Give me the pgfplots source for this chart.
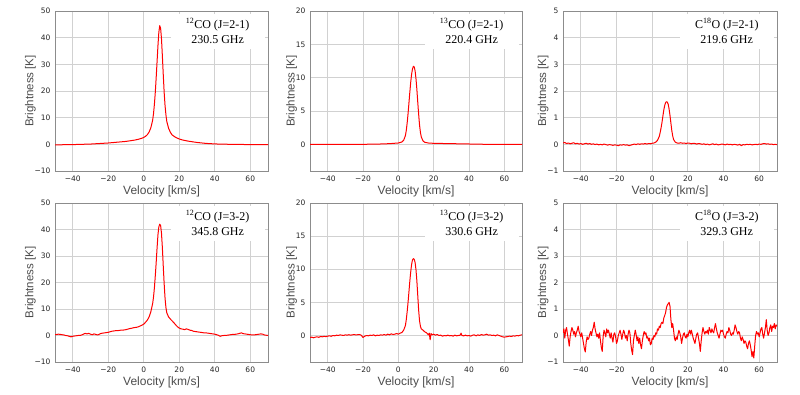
\documentclass[border=0pt]{standalone}
\usepackage{pgfplots}
\pgfplotsset{compat=1.18}
\usepackage{pgfplotstable}
\usepackage{fontspec}
\setmainfont{Liberation Serif}
\newfontfamily\labfont{Liberation Sans}
\newfontfamily\tickfont{DejaVu Sans}

\pgfplotstableread{
v T
-50 -0.2
-45 -0.15
-40 -0.1
-35 0.0
-30 0.1
-25 0.3
-20 0.5
-15 0.8
-10 1.1
-7 1.4
-5 1.6
-3 1.9
-1 2.3
0 2.6
1 3.0
2 3.6
3 4.6
4 6.2
5 9.0
5.5 11.5
6 15
6.5 19.5
7 25
7.5 31
8 37
8.5 42
9 44.5
9.5 43.5
10 39.5
10.5 33
11 26
11.5 19.5
12 14.5
12.5 11
13 8.5
14 6
15 4.5
16 3.5
18 2.6
20 2.0
22 1.6
25 1.2
30 0.7
35 0.35
40 0.15
45 0.05
50 0.0
55 -0.05
60 -0.1
65 -0.1
70 -0.15
}\tabA

\pgfplotstableread{
v T
-50 0.0
-40 0.0
-30 -0.02
-20 0.0
-10 0.05
-5 0.1
0 0.2
2 0.35
3 0.6
4 1.3
4.5 2.1
5 3.2
5.5 4.6
6 6.2
6.5 7.8
7 9.3
7.5 10.5
8 11.3
8.5 11.7
9 11.6
9.5 11.0
10 9.8
10.5 8.2
11 6.3
11.5 4.5
12 2.9
12.5 1.8
13 1.1
14 0.5
15 0.3
17 0.2
20 0.15
30 0.1
40 0.05
50 0.0
60 0.0
70 0.0
}\tabB

\pgfplotstableread{
v T
-50 0.05
-49 0.07
-48 0.03
-47 0.05
-46 0.02
-45 0.04
-44 0.06
-43 0.02
-42 0.04
-41 0.01
-40 0.03
-39 0.00
-38 0.02
-37 0.04
-36 0.01
-35 0.03
-34 0.00
-33 0.02
-32 -0.01
-31 0.01
-30 -0.02
-29 0.00
-28 -0.02
-27 0.01
-26 -0.01
-25 -0.03
-24 -0.01
-23 -0.02
-22 -0.04
-21 -0.02
-20 -0.03
-19 -0.05
-18 -0.02
-17 -0.03
-16 -0.01
-15 -0.03
-14 -0.02
-13 -0.05
-12 -0.03
-11 -0.01
-10 0.01
-9 -0.01
-8 0.02
-7 0.00
-6 0.02
-5 0.01
-4 0.03
-3 0.01
-2 0.03
-1 0.02
0 0.04
1 0.05
2 0.08
3 0.15
4 0.3
4.5 0.45
5 0.62
5.5 0.82
6 1.05
6.5 1.28
7 1.45
7.5 1.56
8 1.60
8.5 1.58
9 1.50
9.5 1.32
10 1.08
10.5 0.80
11 0.52
11.5 0.32
12 0.18
13 0.08
14 0.05
15 0.04
16 0.06
17 0.04
18 0.05
19 0.03
20 0.05
21 0.04
22 0.02
23 0.04
24 0.03
25 0.01
26 0.03
27 0.02
28 0.00
29 0.02
30 -0.01
31 0.01
32 -0.02
33 0.00
34 0.02
35 -0.01
36 0.01
37 -0.02
38 -0.01
39 0.01
40 0.00
41 -0.02
42 0.01
43 -0.01
44 0.00
45 -0.02
46 0.00
47 -0.01
48 -0.03
49 0.00
50 -0.05
51 -0.01
52 -0.02
53 0.00
54 -0.01
55 0.00
56 -0.02
57 -0.01
58 0.00
59 -0.01
60 0.01
61 0.00
62 0.02
63 0.03
64 0.01
65 0.02
66 0.00
67 0.01
68 -0.01
69 0.00
70 -0.01
}\tabC

\pgfplotstableread{
v T
-50 0.3
-49 0.4
-48 0.5
-47 0.4
-46 0.3
-45 0.2
-44 0.0
-43 -0.1
-42 -0.3
-41 -0.5
-40 -0.3
-39 -0.2
-38 -0.1
-37 0.0
-36 0.0
-35 0.2
-34 0.5
-33 0.8
-32 0.6
-31 0.8
-30 0.5
-29 0.3
-28 0.6
-27 0.4
-26 0.2
-25 0.5
-24 0.8
-23 0.9
-22 1.0
-21 1.1
-20 1.2
-19 1.4
-18 1.6
-17 1.7
-16 1.8
-15 1.8
-14 1.9
-13 2.0
-12 2.0
-11 2.1
-10 2.2
-9 2.4
-8 2.6
-7 2.7
-6 2.9
-5 3.0
-4 3.1
-3 3.3
-2 3.6
-1 3.9
0 4.3
1 5.0
2 5.8
3 7.0
4 9.0
5 12
5.5 14.5
6 18
6.5 22.5
7 27.5
7.5 33
8 38
8.5 41
9 42
9.5 41.5
10 38.5
10.5 33
11 26
11.5 19.5
12 14
12.5 10.5
13 8.5
14 7.0
15 6.2
16 5.5
17 4.8
18 4.0
19 3.3
20 2.8
21 2.5
22 2.4
23 2.2
24 2.5
25 2.3
26 2.0
27 1.9
28 1.6
29 1.5
30 1.4
31 1.3
32 1.2
33 1.1
34 1.0
35 1.0
36 0.9
37 0.8
38 0.7
39 0.6
40 0.5
41 0.3
42 0.1
43 -0.3
44 -0.1
45 0.0
46 0.0
47 0.1
48 0.2
49 0.3
50 0.4
51 0.4
52 0.5
53 0.6
54 0.8
55 1.0
56 0.7
57 0.6
58 0.5
59 0.4
60 0.3
61 0.2
62 0.2
63 0.3
64 0.4
65 0.5
66 0.6
67 0.5
68 0.2
69 0.1
70 0.0
}\tabD

\pgfplotstableread{
v T
-50 -0.30
-49 -0.25
-48 -0.35
-47 -0.25
-46 -0.20
-45 -0.28
-44 -0.15
-43 -0.20
-42 -0.12
-41 -0.18
-40 -0.10
-39 -0.05
-38 -0.12
-37 0.00
-36 -0.05
-35 0.05
-34 0.00
-33 0.10
-32 0.05
-31 0.00
-30 0.10
-29 0.05
-28 0.12
-27 0.05
-26 0.10
-25 0.15
-24 0.08
-23 0.12
-22 0.15
-21 0.05
-20 -0.30
-19 -0.10
-18 0.00
-17 -0.05
-16 0.05
-15 0.00
-14 0.10
-13 -0.05
-12 0.05
-11 0.00
-10 0.10
-9 0.05
-8 0.15
-7 0.05
-6 0.20
-5 0.10
-4 0.25
-3 0.15
-2 0.20
-1 0.30
0 0.20
1 0.35
2 0.45
3 0.80
4 1.5
4.5 2.4
5 3.6
5.5 5.0
6 6.6
6.5 8.2
7 9.6
7.5 10.7
8 11.4
8.5 11.6
9 11.5
9.5 11.0
10 9.9
10.5 8.2
11 6.0
11.5 3.8
12 2.2
12.5 1.4
13 1.0
14 0.8
15 0.55
16 0.40
17 0.10
17.5 0.35
18 -0.65
18.5 0.30
19 0.10
20 0.20
21 0.05
22 0.15
23 0.00
24 0.05
25 -0.10
26 0.00
27 -0.05
28 0.05
29 -0.05
30 0.00
31 -0.10
32 0.05
33 -0.05
34 0.00
35 0.05
35.5 0.35
36 0.00
37 -0.05
38 0.05
39 -0.05
40 0.00
41 -0.10
42 0.05
43 0.10
44 -0.05
45 0.10
46 0.00
47 0.15
48 0.05
49 0.10
50 0.20
51 0.05
52 0.10
53 0.00
54 0.05
55 -0.05
56 0.10
57 0.00
58 -0.10
59 -0.20
60 -0.25
61 -0.20
62 -0.15
63 -0.10
64 -0.15
65 -0.05
66 -0.10
67 0.00
68 -0.05
69 0.05
70 0.10
}\tabE

\pgfplotstableread{
v T
-50 0.10
-49.5 0.25
-49 -0.10
-48.5 0.20
-48 0.30
-47.5 0.05
-47 -0.15
-46.5 -0.40
-46 -0.05
-45.5 0.15
-45 0.30
-44.5 0.20
-44 0.05
-43.5 0.15
-43 -0.05
-42.5 0.10
-42 0.20
-41.5 0.35
-41 0.15
-40.5 0.05
-40 -0.05
-39.5 0.10
-39 -0.10
-38.5 -0.30
-38 -0.50
-37.5 -0.62
-37 -0.25
-36.5 -0.05
-36 -0.15
-35.5 -0.10
-35 0.05
-34.5 0.15
-34 0.00
-33.5 0.20
-33 0.30
-32.5 0.50
-32 0.25
-31.5 0.10
-31 -0.05
-30.5 0.05
-30 -0.10
-29.5 0.10
-29 -0.20
-28.5 -0.45
-28 -0.60
-27.5 -0.05
-27 0.20
-26.5 0.10
-26 -0.05
-25.5 0.25
-25 0.10
-24.5 0.20
-24 0.05
-23.5 -0.10
-23 0.10
-22.5 -0.10
-22 -0.25
-21.5 0.05
-21 0.10
-20.5 -0.05
-20 -0.30
-19.5 -0.20
-19 0.00
-18.5 0.10
-18 0.20
-17.5 0.05
-17 -0.15
-16.5 0.05
-16 0.20
-15.5 0.10
-15 -0.10
-14.5 0.00
-14 -0.20
-13.5 0.05
-13 0.20
-12.5 0.10
-12 -0.30
-11.5 -0.55
-11 -0.72
-10.5 -0.20
-10 0.00
-9.5 0.20
-9 0.05
-8.5 -0.20
-8 -0.05
-7.5 -0.30
-7 -0.10
-6.5 -0.35
-6 -0.50
-5.5 -0.20
-5 0.00
-4.5 0.15
-4 0.05
-3.5 0.10
-3 -0.10
-2.5 -0.05
-2 -0.20
-1.5 -0.10
-1 -0.35
-0.5 -0.30
0 -0.10
0.5 -0.15
1 0.00
1.5 -0.05
2 0.10
2.5 0.05
3 0.25
3.5 0.20
4 0.35
4.5 0.30
5 0.45
5.5 0.50
6 0.45
6.5 0.65
7 0.75
7.5 0.85
8 1.05
8.5 1.15
9 1.20
9.5 1.25
10 1.10
10.5 0.60
11 0.30
11.5 0.45
12 0.20
12.5 -0.10
13 -0.20
13.5 -0.05
14 -0.15
14.5 0.05
15 0.20
15.5 0.10
16 -0.05
16.5 -0.30
17 -0.10
17.5 0.05
18 0.10
18.5 -0.05
19 -0.10
19.5 0.05
20 -0.05
20.5 0.10
21 0.20
21.5 0.05
22 0.20
22.5 0.05
23 -0.10
23.5 -0.20
24 -0.30
24.5 -0.10
25 0.05
25.5 0.10
26 -0.10
26.5 -0.30
27 -0.60
27.5 -0.20
28 0.10
28.5 0.30
29 0.15
29.5 0.05
30 0.15
30.5 0.10
31 0.20
31.5 0.05
32 0.30
32.5 0.20
33 0.10
33.5 0.25
34 0.15
34.5 0.10
35 0.30
35.5 0.45
36 0.25
36.5 0.10
37 0.00
37.5 -0.10
38 0.05
38.5 0.20
39 0.15
39.5 0.20
40 0.05
40.5 -0.05
41 -0.10
41.5 0.05
42 0.15
42.5 0.10
43 0.30
43.5 0.20
44 0.05
44.5 0.00
45 0.10
45.5 0.05
46 0.20
46.5 0.40
47 0.30
47.5 0.15
48 0.05
48.5 0.15
49 0.10
49.5 -0.10
50 -0.20
50.5 -0.05
51 -0.15
51.5 -0.30
52 -0.20
52.5 -0.25
53 -0.40
53.5 -0.50
54 -0.30
54.5 -0.20
55 -0.35
55.5 -0.55
56 -0.80
56.5 -0.60
57 -0.85
57.5 -0.40
58 0.00
58.5 0.15
59 0.05
59.5 0.10
60 -0.05
60.5 0.10
61 0.25
61.5 0.30
62 0.05
62.5 -0.10
63 0.10
63.5 0.30
64 0.60
64.5 0.20
65 0.00
65.5 0.10
66 0.30
66.5 0.40
67 0.15
67.5 0.35
68 0.30
68.5 0.45
69 0.25
69.5 0.40
70 0.35
}\tabF

\pgfplotsset{
  spec/.style={
    scale only axis,
    anchor=south west,
    height=160pt,
    xmin=-50, xmax=70,
    xtick={-40,-20,0,20,40,60},
    xticklabels={−40,−20,0,20,40,60},
    grid=major,
    major grid style={color=black!18, line width=0.8pt},
    axis line style={color=black!45, line width=0.8pt},
    major tick length=0pt,
    tick label style={font=\tickfont\fontsize{7.5}{9}\selectfont, text=black!85},
    xticklabel style={yshift=-1.5pt},
    yticklabel style={xshift=-1pt},
    xlabel={Velocity [km/s]},
    ylabel={Brightness [K]},
    xlabel style={font=\labfont\fontsize{12}{14}\selectfont, text=black!70, yshift=3pt},
    ylabel style={font=\labfont\fontsize{11.5}{14}\selectfont, text=black!70, yshift=-8pt},
    clip=true,
  },
  bigT/.style={ymin=-10, ymax=50, ytick={-10,0,10,20,30,40,50}, yticklabels={−10,0,10,20,30,40,50}},
  midT/.style={ymin=-4, ymax=20, ytick={0,5,10,15,20}, yticklabels={0,5,10,15,20}},
  smlT/.style={ymin=-1, ymax=5, ytick={-1,0,1,2,3,4,5}, yticklabels={−1,0,1,2,3,4,5}},
  spline/.style={color=red, line width=1pt, line join=round},
}
\newcommand{\tag}[3]{%
  \node[anchor=north east, fill=white, inner sep=0pt, minimum width=94pt, minimum height=35pt,
        align=center, font=\fontsize{12}{15}\selectfont]
    at (rel axis cs:0.985,0.985) {\textsuperscript{#1}#2\\#3};}

\begin{document}
\begin{tikzpicture}
\useasboundingbox (0,0) rectangle (800pt,395pt);
% row 1
\begin{axis}[spec, bigT, at={(55pt,224pt)}, width=213pt]
  \addplot[spline] table[x=v,y=T] {\tabA};
  \tag{12}{CO (J=2-1)}{230.5 GHz}
\end{axis}
\begin{axis}[spec, midT, at={(310pt,224pt)}, width=212pt]
  \addplot[spline] table[x=v,y=T] {\tabB};
  \tag{13}{CO (J=2-1)}{220.4 GHz}
\end{axis}
\begin{axis}[spec, smlT, at={(563pt,224pt)}, width=214pt]
  \addplot[spline] table[x=v,y=T] {\tabC};
  \tag{}{C\textsuperscript{18}O (J=2-1)}{219.6 GHz}
\end{axis}
% row 2
\begin{axis}[spec, bigT, at={(55pt,33pt)}, width=213pt, height=159pt]
  \addplot[spline] table[x=v,y=T] {\tabD};
  \tag{12}{CO (J=3-2)}{345.8 GHz}
\end{axis}
\begin{axis}[spec, midT, at={(310pt,33pt)}, width=212pt, height=159pt]
  \addplot[spline] table[x=v,y=T] {\tabE};
  \tag{13}{CO (J=3-2)}{330.6 GHz}
\end{axis}
\begin{axis}[spec, smlT, at={(563pt,33pt)}, width=214pt, height=159pt]
  \addplot[spline] table[x=v,y=T] {\tabF};
  \tag{}{C\textsuperscript{18}O (J=3-2)}{329.3 GHz}
\end{axis}
\end{tikzpicture}
\end{document}
